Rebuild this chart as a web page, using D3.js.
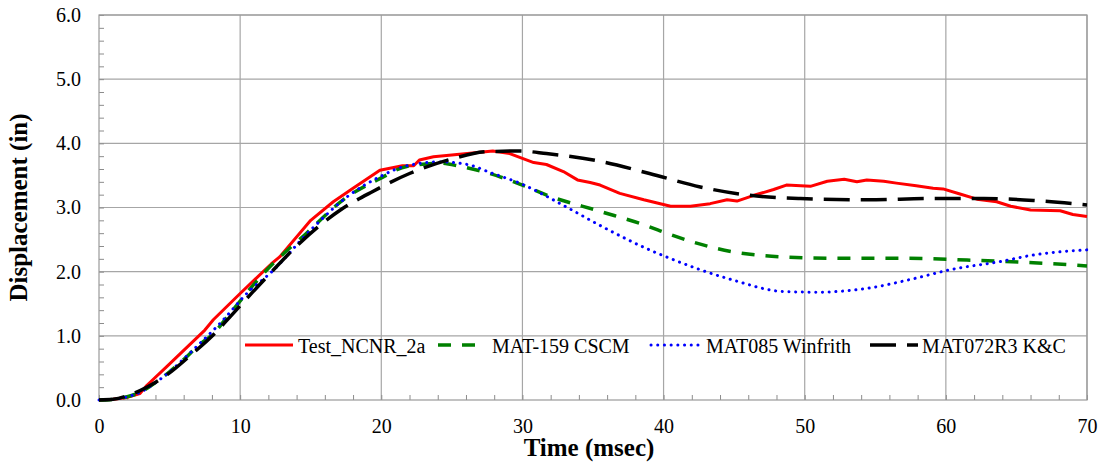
<!DOCTYPE html>
<html>
<head>
<meta charset="utf-8">
<script src="https://cdn.jsdelivr.net/npm/d3@7"></script>
</head>
<body style="margin:0; background:#fff">
<div id="chart"></div>
<script>
var svgWidth = 1105;
var svgHeight = 463;

var margin = { top: 15, right: 18, bottom: 63, left: 99 };
var width = svgWidth - margin.left - margin.right;
var height = svgHeight - margin.top - margin.bottom;

var serifFont = "'Liberation Serif'";

// data (time in msec, displacement in in)
var seriesNames = ["Test_NCNR_2a", "MAT-159 CSCM", "MAT085 Winfrith", "MAT072R3 K&C"];

var testTime = [0, 1, 2, 2.9, 3.4, 4.8, 7.5, 8.1, 10, 12.2, 12.8, 15, 16.6, 18, 19.9, 21.5, 22.3, 22.7, 23.7, 26.1, 27.9, 29.1, 30.8, 31.7, 32.9, 33.9, 34.8, 35.5, 36.9, 38.6, 40.5, 41.9, 43.3, 44.5, 45.2, 46.4, 47.8, 48.7, 50.4, 51.6, 52.8, 53.7, 54.4, 55.6, 56.5, 57.9, 59.1, 59.8, 61.0, 62.2, 63.6, 64.6, 66.0, 68.1, 69.0, 70];
var testDisp = [0, 0.01, 0.04, 0.10, 0.23, 0.52, 1.09, 1.25, 1.66, 2.12, 2.23, 2.80, 3.09, 3.30, 3.58, 3.65, 3.65, 3.74, 3.79, 3.84, 3.88, 3.84, 3.70, 3.67, 3.56, 3.43, 3.39, 3.35, 3.22, 3.12, 3.02, 3.02, 3.06, 3.12, 3.10, 3.19, 3.28, 3.35, 3.33, 3.41, 3.44, 3.40, 3.43, 3.41, 3.38, 3.34, 3.30, 3.29, 3.21, 3.13, 3.09, 3.02, 2.96, 2.95, 2.89, 2.86];

var cscmTime = [0, 1, 2, 3, 4, 5, 6, 7, 8.3, 9.0, 11.9, 14.7, 17.3, 19.9, 21.8, 24.2, 25.6, 27.2, 29.4, 32.0, 35.5, 39.0, 40.2, 44.9, 48.5, 52.0, 56.8, 61.5, 66.2, 70];
var cscmDisp = [0, 0.01, 0.05, 0.13, 0.27, 0.44, 0.63, 0.84, 1.08, 1.27, 2.03, 2.60, 3.12, 3.45, 3.64, 3.69, 3.64, 3.56, 3.40, 3.17, 2.94, 2.70, 2.60, 2.31, 2.23, 2.21, 2.21, 2.18, 2.14, 2.09];

var winTime = [0, 1, 2, 3, 4, 5, 6, 7, 8.6, 10.7, 12.1, 15.0, 17.6, 19.9, 21.8, 24.2, 26.1, 27.9, 29.8, 33.1, 35.5, 39.0, 40.2, 44.9, 48.5, 50.9, 54.4, 57.9, 60.3, 63.9, 66.2, 70];
var winDisp = [0, 0.01, 0.05, 0.13, 0.27, 0.44, 0.64, 0.85, 1.20, 1.71, 1.97, 2.65, 3.17, 3.48, 3.65, 3.71, 3.67, 3.53, 3.38, 3.01, 2.72, 2.34, 2.23, 1.87, 1.69, 1.68, 1.74, 1.90, 2.03, 2.16, 2.26, 2.34];

var kcTime = [0, 1, 2.4, 4.1, 4.8, 6.5, 8.3, 9.3, 11.9, 14.2, 17.1, 19.4, 22.0, 24.9, 27.5, 29.8, 31.7, 35.5, 39.0, 42.6, 46.1, 49.7, 54.4, 59.1, 62.7, 66.2, 70];
var kcDisp = [0, 0.01, 0.10, 0.29, 0.39, 0.70, 1.06, 1.30, 1.92, 2.44, 2.96, 3.25, 3.53, 3.75, 3.87, 3.88, 3.84, 3.72, 3.53, 3.32, 3.19, 3.14, 3.12, 3.14, 3.14, 3.11, 3.04];

var xTicks = [0, 10, 20, 30, 40, 50, 60, 70];
var yTicks = [0, 1, 2, 3, 4, 5, 6];

var series = [
  { name: seriesNames[0], t: testTime, v: testDisp, color: "#ff0000", w: 3, dash: null, cap: "butt" },
  { name: seriesNames[1], t: cscmTime, v: cscmDisp, color: "#008000", w: 3.5, dash: "13,11", cap: "butt" },
  { name: seriesNames[2], t: winTime, v: winDisp, color: "#0000ff", w: 3, dash: "0.1,6.6", cap: "round" },
  { name: seriesNames[3], t: kcTime, v: kcDisp, color: "#000000", w: 3.5, dash: "26,11", cap: "butt" }
];

var svg = d3.select("#chart")
  .append("svg")
  .attr("width", svgWidth)
  .attr("height", svgHeight);

svg.append("rect").attr("width", svgWidth).attr("height", svgHeight).attr("fill", "#fff");

var chartGroup = svg.append("g")
  .attr("transform", `translate(${margin.left}, ${margin.top})`);

var xScale = d3.scaleLinear().domain([0, 70]).range([0, width]);
var yScale = d3.scaleLinear().domain([0, 6]).range([height, 0]);

// gridlines
chartGroup.append("g").selectAll("line")
  .data(xTicks.slice(1))
  .enter().append("line")
  .attr("x1", d => xScale(d)).attr("x2", d => xScale(d))
  .attr("y1", 0).attr("y2", height)
  .attr("stroke", "#a6a6a6").attr("stroke-width", 1.2);

chartGroup.append("g").selectAll("line")
  .data(yTicks.slice(1))
  .enter().append("line")
  .attr("x1", 0).attr("x2", width)
  .attr("y1", d => yScale(d)).attr("y2", d => yScale(d))
  .attr("stroke", "#a6a6a6").attr("stroke-width", 1.2);

// minor ticks pointing inside
chartGroup.append("g")
  .attr("transform", `translate(0, ${height})`)
  .call(d3.axisTop(xScale).tickValues(d3.range(0, 71, 2)).tickSize(5).tickFormat(""))
  .call(g => g.select(".domain").remove())
  .call(g => g.selectAll("line").attr("stroke", "#8c8c8c"));

chartGroup.append("g")
  .call(d3.axisRight(yScale).tickValues(d3.range(0, 31).map(i => i * 0.2)).tickSize(5).tickFormat(""))
  .call(g => g.select(".domain").remove())
  .call(g => g.selectAll("line").attr("stroke", "#8c8c8c"));

// plot border
chartGroup.append("rect")
  .attr("width", width).attr("height", height)
  .attr("fill", "none").attr("stroke", "#9a9a9a").attr("stroke-width", 1.2);

// tick labels
var bottomAxis = d3.axisBottom(xScale).tickValues(xTicks).tickSize(0).tickPadding(19).tickFormat(d3.format("d"));
chartGroup.append("g")
  .attr("transform", `translate(0, ${height})`)
  .call(bottomAxis)
  .call(g => g.select(".domain").remove())
  .call(g => g.selectAll("text")
    .style("font-family", serifFont).style("font-size", "20px").attr("fill", "#000"));

var leftAxis = d3.axisLeft(yScale).tickValues(yTicks).tickSize(0).tickPadding(18).tickFormat(d3.format(".1f"));
chartGroup.append("g")
  .call(leftAxis)
  .call(g => g.select(".domain").remove())
  .call(g => g.selectAll("text")
    .style("font-family", serifFont).style("font-size", "20px").attr("fill", "#000"));

// lines
var line = d3.line()
  .x(d => xScale(d[0]))
  .y(d => yScale(d[1]));

series.forEach(function(s) {
  var pts = s.t.map((t, i) => [t, s.v[i]]);
  var p = chartGroup.append("path")
    .datum(pts)
    .attr("fill", "none")
    .attr("stroke", s.color)
    .attr("stroke-width", s.w)
    .attr("stroke-linecap", s.cap)
    .attr("stroke-linejoin", "round")
    .attr("d", s.name === seriesNames[0] ? line.curve(d3.curveLinear)(pts) : line.curve(d3.curveMonotoneX)(pts));
  if (s.dash) p.attr("stroke-dasharray", s.dash);
});

// legend
var legendX = [245, 438, 651, 870];
var legendLen = [48, 39, 48, 48];
var legendTextX = [298, 492, 706, 922];
var legendY = 345;
var legend = svg.append("g");
series.forEach(function(s, i) {
  var l = legend.append("line")
    .attr("x1", legendX[i]).attr("x2", legendX[i] + legendLen[i])
    .attr("y1", legendY).attr("y2", legendY)
    .attr("stroke", s.color)
    .attr("stroke-width", s.w)
    .attr("stroke-linecap", s.cap);
  if (s.dash) l.attr("stroke-dasharray", s.dash);
  legend.append("text")
    .attr("x", legendTextX[i])
    .attr("y", legendY + 8)
    .style("font-family", serifFont)
    .style("font-size", "20px")
    .text(s.name);
});

// axis titles
svg.append("text")
  .attr("transform", `translate(27, ${margin.top + height / 2}) rotate(-90)`)
  .attr("text-anchor", "middle")
  .style("font-family", serifFont)
  .style("font-size", "25px")
  .style("font-weight", "bold")
  .text("Displacement (in)");

svg.append("text")
  .attr("x", 589)
  .attr("y", 456)
  .attr("text-anchor", "middle")
  .style("font-family", serifFont)
  .style("font-size", "25px")
  .style("font-weight", "bold")
  .text("Time (msec)");
</script>
</body>
</html>
